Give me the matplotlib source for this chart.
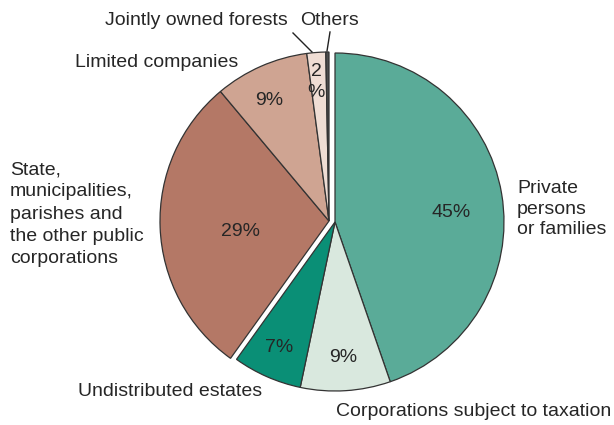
import matplotlib
matplotlib.use('Agg')
import matplotlib.pyplot as plt

# ownership of forest land, share of area (%)
categorias = ['Private\npersons\nor families', 'Corporations subject to taxation',
              'Undistributed estates',
              'State,\nmunicipalities,\nparishes and\nthe other public\ncorporations',
              'Limited companies', 'Jointly owned forests', 'Others']
valores = [44.7, 8.6, 6.6, 29.0, 9.0, 1.8, 0.3]
cores = ['#5aab98', '#d9e8de', '#0a8f76', '#b47866', '#cfa492', '#efddd4', '#4d4d4d']
rotulos_pct = ['45%', '9%', '7%', '29%', '9%', '2\n%', '']

plt.rcParams['font.family'] = ['Liberation Sans', 'DejaVu Sans']
texto = '#262626'
fs = 14

fig = plt.figure(figsize=(6.14, 4.25), dpi=100)
ax = fig.add_axes([0, 0, 1, 1])

cx, cy, r = 335, 222, 169
wedges, _ = ax.pie(valores, colors=cores, startangle=270, counterclock=True,
                   center=(cx, cy), radius=r, frame=True,
                   wedgeprops=dict(edgecolor='#333333', linewidth=0.9))
ax.set_xlim(0, 614)
ax.set_ylim(425, 0)  # coordenadas em pixels, y para baixo
ax.set_aspect('equal')
ax.axis('off')

# grupo da esquerda deslocado um pouco
for w in wedges[3:]:
    w.set_center((cx - 6, cy - 1))

# percentuais
pos_pct = [(451, 212), (343, 357), (279, 348), (240, 231), (269, 100), (316, 82)]
for (x, y), t in zip(pos_pct, rotulos_pct):
    ax.text(x, y, t, ha='center', va='center', fontsize=fs, color=texto, linespacing=1.25)

# rotulos das categorias
ax.text(517, 209, categorias[0], ha='left', va='center', fontsize=fs, color=texto, linespacing=1.3)
ax.text(336, 412, categorias[1], ha='left', va='center', fontsize=fs, color=texto)
ax.text(78, 392, categorias[2], ha='left', va='center', fontsize=fs, color=texto)
ax.text(10, 214, categorias[3], ha='left', va='center', fontsize=fs, color=texto, linespacing=1.4)
ax.text(75, 62, categorias[4], ha='left', va='center', fontsize=fs, color=texto)
ax.text(105, 20, categorias[5], ha='left', va='center', fontsize=fs, color=texto)
ax.text(300, 20, categorias[6], ha='left', va='center', fontsize=fs, color=texto)

# linhas de chamada
ax.plot([293, 312], [33, 52], color='#222222', lw=1)
ax.plot([330, 327], [32, 51], color='#222222', lw=1)

plt.savefig('out.png', dpi=100)
